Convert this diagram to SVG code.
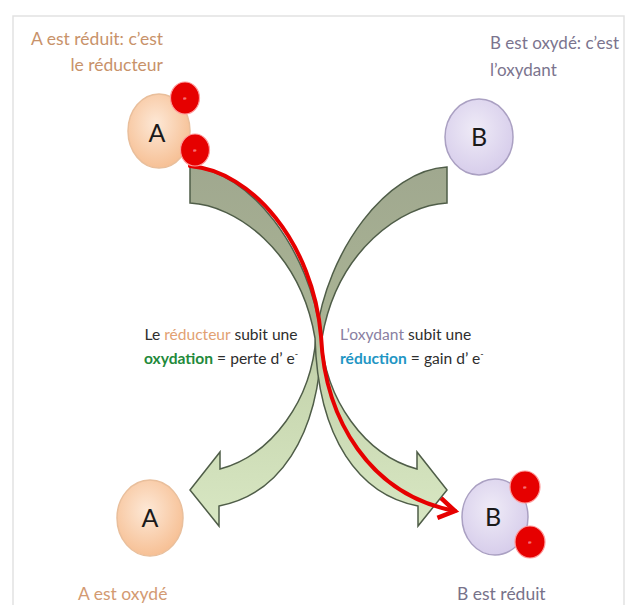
<svg xmlns="http://www.w3.org/2000/svg" width="625" height="605" viewBox="0 0 625 605">
<defs>
<style>
.lbl{font-family:Lato,"Open Sans","Liberation Sans",sans-serif;font-size:17.5px}
.mid{font-family:Lato,"Open Sans","Liberation Sans",sans-serif;font-size:15.6px}
.big{font-family:Lato,"Open Sans","Liberation Sans",sans-serif;font-size:25px;fill:#1a1a1a;text-anchor:middle}
.ecirc{fill:#e60000;stroke:#ff9a9a;stroke-width:1.2}
.etxt{font-family:"Liberation Sans",sans-serif;font-size:6px;fill:#ffb3b3;text-anchor:middle}
.arrow{fill:url(#ag);stroke:#4f5d48;stroke-width:1.5;stroke-linejoin:miter}
.atom-a{fill:url(#ga);stroke:#e9bf9c;stroke-width:1.5}
.atom-b{fill:url(#gb);stroke:#aaa0c2;stroke-width:1.5}
</style>
<radialGradient id="ga" cx="0.45" cy="0.4" r="0.65">
<stop offset="0" stop-color="#fde8d6"/><stop offset="1" stop-color="#f6bd90"/>
</radialGradient>
<radialGradient id="gb" cx="0.45" cy="0.4" r="0.65">
<stop offset="0" stop-color="#efebf7"/><stop offset="1" stop-color="#d5cbea"/>
</radialGradient>
<linearGradient id="ag" gradientUnits="userSpaceOnUse" x1="0" y1="167" x2="0" y2="526">
<stop offset="0" stop-color="#a0a88f"/><stop offset="0.42" stop-color="#a9b394"/><stop offset="0.58" stop-color="#c6d5ae"/><stop offset="1" stop-color="#d8e7c3"/>
</linearGradient>
<marker id="redhead" markerUnits="userSpaceOnUse" markerWidth="30" markerHeight="30" viewBox="-20 -15 30 30" refX="0" refY="0" orient="auto">
<path d="M-16,-10 L0,0 L-16,10" fill="none" stroke="#e60000" stroke-width="4.5"/>
</marker>
</defs>
<rect x="0" y="0" width="625" height="605" fill="#ffffff"/>
<rect x="13" y="16" width="611" height="600" fill="none" stroke="#e2e2e2" stroke-width="1.5"/>

<g id="connectors">
<path id="arrow-oxydant" class="arrow" transform="translate(637,0) scale(-1,1)" d="M190,167 C250,170 310,250 321,336 C325,400 365,455 417,469 L417,452 L447,490 L418,526 L418,506 C360,495 318,440 315,338 C300,250 235,205 190,203 Z"/>
<path id="arrow-reducteur" class="arrow" d="M190,167 C250,170 310,250 321,336 C325,400 365,455 417,469 L417,452 L447,490 L418,526 L418,506 C360,495 318,440 315,338 C300,250 235,205 190,203 Z"/>
<path id="electron-path" d="M190,166 C252,171 313,243 321,336 C325,420 370,495 455,511" fill="none" stroke="#e60000" stroke-width="4" stroke-linecap="round" marker-end="url(#redhead)"/>
</g>

<g id="label-A-top" class="lbl" fill="#c8926a" text-anchor="end">
<text x="163" y="45">A est réduit: c’est</text>
<text x="163" y="71">le réducteur</text>
</g>
<g id="label-B-top" class="lbl" fill="#7b748e" font-size="17px" style="font-size:17px">
<text x="490" y="49">B est oxydé: c’est</text>
<text x="490" y="76">l’oxydant</text>
</g>

<g id="node-A-top">
<ellipse class="atom-a" cx="159" cy="131" rx="31" ry="37"/>
<text class="big" x="157" y="142">A</text>
</g>
<g id="electrons-A">
<ellipse class="ecirc" cx="185" cy="98" rx="14.5" ry="16"/>
<text class="etxt" x="185" y="100">e</text>
<ellipse class="ecirc" cx="195" cy="150" rx="14.5" ry="16"/>
<text class="etxt" x="195" y="152">e</text>
</g>

<g id="node-B-top">
<ellipse class="atom-b" cx="479" cy="137" rx="34" ry="38"/>
<text class="big" x="479" y="146">B</text>
</g>

<g id="node-A-bottom">
<ellipse class="atom-a" cx="150" cy="518" rx="33" ry="38"/>
<text class="big" x="150" y="527">A</text>
</g>

<g id="node-B-bottom">
<ellipse class="atom-b" cx="495" cy="517" rx="33" ry="38"/>
<text class="big" x="493" y="526">B</text>
</g>
<g id="electrons-B">
<ellipse class="ecirc" cx="525" cy="487" rx="15" ry="16"/>
<text class="etxt" x="525" y="489">e</text>
<ellipse class="ecirc" cx="530" cy="542" rx="15" ry="16"/>
<text class="etxt" x="530" y="544">e</text>
</g>

<g id="text-oxydation" class="mid" fill="#2e2e2e">
<text x="221" y="340" text-anchor="middle">Le <tspan fill="#e2a172">réducteur</tspan> subit une</text>
<text x="221" y="364" text-anchor="middle"><tspan fill="#1f8a3b" font-weight="bold">oxydation</tspan> = perte d’ e<tspan font-size="9" dy="-7">-</tspan></text>
</g>
<g id="text-reduction" class="mid" fill="#2e2e2e">
<text x="340" y="340"><tspan fill="#8a80a2">L’oxydant</tspan> subit une</text>
<text x="340" y="364"><tspan fill="#1f96c4" font-weight="bold">réduction</tspan> = gain d’ e<tspan font-size="9" dy="-7">-</tspan></text>
</g>

<g id="label-A-bottom" class="lbl" fill="#d39a72">
<text x="78" y="600">A est oxydé</text>
</g>
<g id="label-B-bottom" class="lbl" fill="#77728a">
<text x="457" y="600">B est réduit</text>
</g>
</svg>
